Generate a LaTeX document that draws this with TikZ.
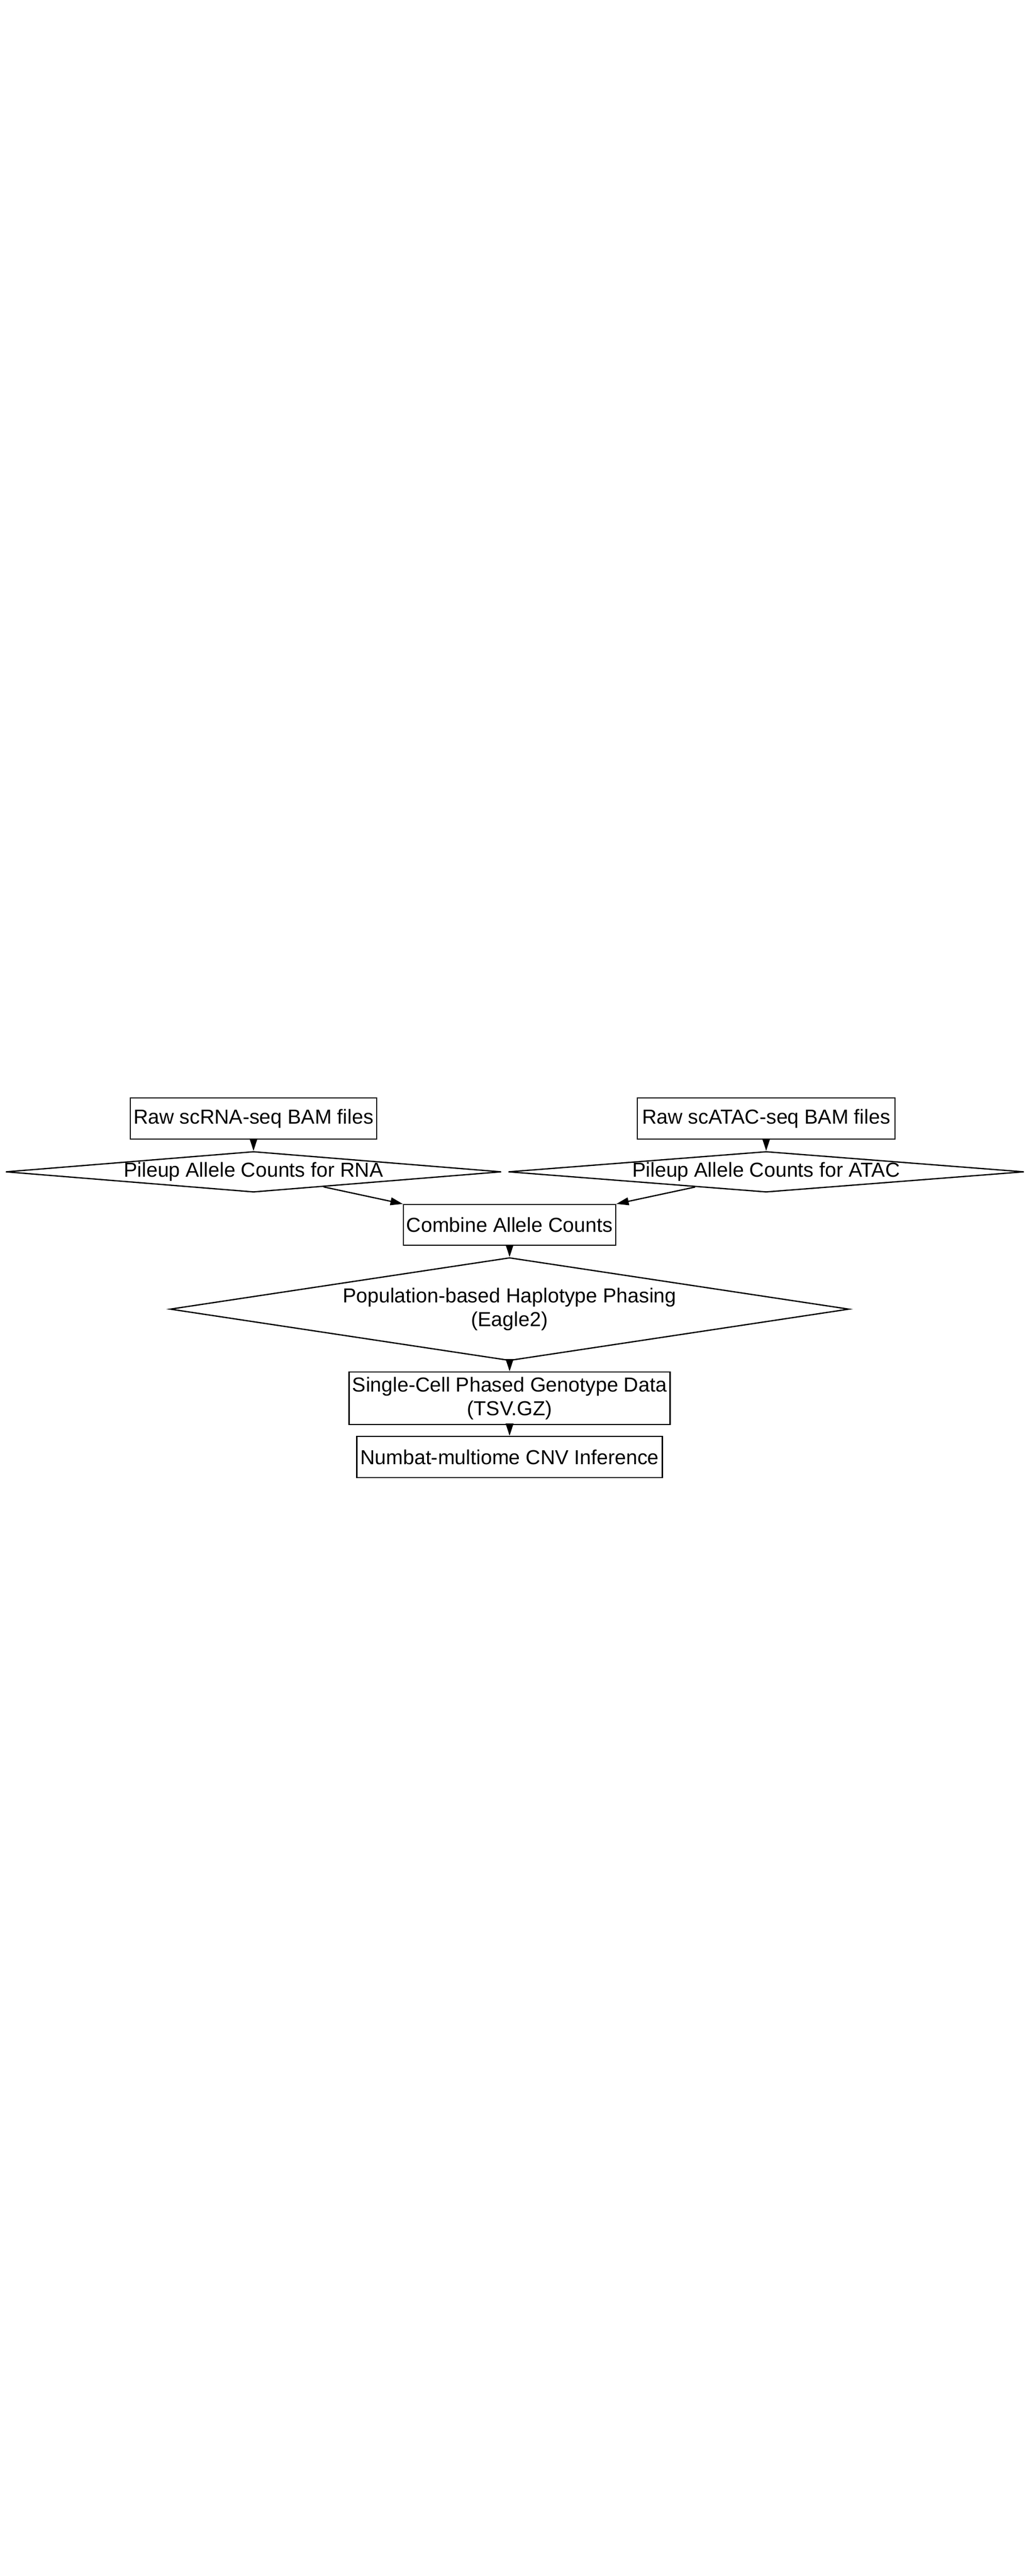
\documentclass[tikz,border=0pt]{standalone}
\usepackage{fontspec}
\setmainfont{Liberation Sans}
\usepackage{tikz}
\usetikzlibrary{positioning, arrows.meta, shapes.geometric}

\begin{document}
\begin{tikzpicture}[line width=0.7pt,
  every node/.style={font=\fontsize{11.2pt}{13.2pt}\selectfont},
  stepbox/.style={draw,rectangle,inner sep=0pt,minimum height=0.8cm,align=center},
  decision/.style={draw,diamond,inner sep=0pt,align=center},
  flow/.style={-{Triangle[length=0.24cm,width=0.15cm]}}]
% page frame
\useasboundingbox (0,0) rectangle (20,-50);
% Raw inputs
\node[stepbox,minimum width=4.78cm] (rawrna) at (4.92,-21.71) {Raw scRNA-seq BAM files};
\node[stepbox,minimum width=5.00cm] (rawatac) at (14.87,-21.71) {Raw scATAC-seq BAM files};
% Pileup steps
\node[decision,aspect=12.18,minimum width=9.62cm,minimum height=0.79cm] (pileuprna) at (4.92,-22.745) {Pileup Allele Counts for RNA};
\node[decision,aspect=12.67,minimum width=10.01cm,minimum height=0.79cm] (pileupatac) at (14.87,-22.745) {Pileup Allele Counts for ATAC};
% Merge and phasing
\node[stepbox,minimum width=4.12cm,minimum height=0.79cm] (combine) at (9.89,-23.775) {Combine Allele Counts};
\node[decision,aspect=6.59,minimum width=13.18cm,minimum height=2.0cm] (phasing) at (9.89,-25.41) {Population-based Haplotype Phasing\\(Eagle2)};
% Outputs
\node[stepbox,minimum width=6.23cm,minimum height=1.02cm] (genotype) at (9.89,-27.14) {Single-Cell Phased Genotype Data\\(TSV.GZ)};
\node[stepbox,minimum width=5.93cm] (numbat) at (9.89,-28.28) {Numbat-multiome CNV Inference};
% Connectors
\draw[flow] (rawrna) -- (pileuprna);
\draw[flow] (rawatac) -- (pileupatac);
\draw[flow] (pileuprna) -- (combine.north west);
\draw[flow] (pileupatac) -- (combine.north east);
\draw[flow] (combine) -- (phasing);
\draw[flow] (phasing) -- (genotype);
\draw[flow] (genotype) -- (numbat);
\end{tikzpicture}
\end{document}
